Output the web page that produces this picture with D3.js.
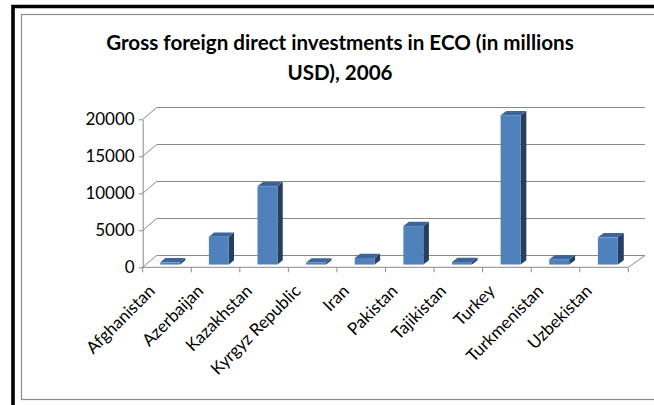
<!DOCTYPE html>
<html>
<head>
<meta charset="utf-8">
<script src="https://cdn.jsdelivr.net/npm/d3@7"></script>
<style>
  html, body { margin: 0; padding: 0; background: #fff; }
  svg { display: block; }
  text { font-family: Lato, "Open Sans", sans-serif; }
</style>
</head>
<body>
<svg id="chart" width="654" height="405"></svg>
<script>
// Gross FDI in ECO member states, 2006 (millions USD)
const categories = ["Afghanistan", "Azerbaijan", "Kazakhstan", "Kyrgyz Republic", "Iran",
                    "Pakistan", "Tajikistan", "Turkey", "Turkmenistan", "Uzbekistan"];
const fdiValues = [300, 3760, 10600, 280, 890, 5200, 340, 20185, 730, 3680];
const yTicks = [0, 5000, 10000, 15000, 20000];
const titleLines = ["Gross foreign direct investments in ECO (in millions", "USD), 2006"];

const svg = d3.select("#chart");

// frame: heavy outer border and thin inner chart-area border
svg.append("path")
  .attr("d", "M13,420 L13,6.5 L670,6.5")
  .attr("fill", "none").attr("stroke", "#000").attr("stroke-width", 3.6);
svg.append("rect")
  .attr("x", 21.5).attr("y", 14.5).attr("width", 700).attr("height", 385)
  .attr("fill", "#fff").attr("stroke", "#8c8c8c").attr("stroke-width", 1.2);

// title
svg.append("text")
  .attr("text-anchor", "middle")
  .attr("font-weight", "bold").attr("font-size", 20.6).attr("fill", "#000")
  .selectAll("tspan").data(titleLines).join("tspan")
  .attr("x", 340).attr("y", (d, i) => 50 + i * 30)
  .text(d => d);

// plot geometry (oblique 3-D box)
const x0 = 142.7, x1 = 628.3;
const y = d3.scaleLinear().domain([0, 20000]).range([267.3, 119.3]);
const xb = d3.scaleBand().domain(categories).range([x0, x1])
  .paddingInner(0.59).paddingOuter(0.295);
const step = xb.step();
const depthDy = -11.8;
const dxAt = x => 14 + 2.7 * (x - x0) / (x1 - x0);
const proj = (x, v, d) => [x + d * dxAt(x), y(v) + d * depthDy];

const gridColor = "#8a8a8a";
const grid = svg.append("g").attr("stroke", gridColor).attr("stroke-width", 1).attr("fill", "none");

// back-wall gridlines and left-wall diagonals
yTicks.forEach(v => {
  const a = proj(x0, v, 1), b = proj(x1, v, 1), f = proj(x0, v, 0);
  grid.append("path").attr("d", `M${f[0]},${f[1]}L${a[0]},${a[1]}L${b[0]},${b[1]}`);
});
// floor right edge and front edge
{
  const fr = proj(x1, 0, 0), br = proj(x1, 0, 1);
  grid.append("path").attr("d", `M${fr[0]},${fr[1]}L${br[0]},${br[1]}`);
  grid.append("path").attr("d", `M${x0},${y(0)}L${x1},${y(0)}`);
}

// bars
const d0 = 0.23, d1 = 0.59;
const colors = { front: "#4f81bd", side: "#273f5e", top: "#3b659b" };
const poly = pts => "M" + pts.map(p => p.join(",")).join("L") + "Z";
const bars = svg.append("g");
categories.forEach((c, i) => {
  const v = fdiValues[i];
  const xs = xb(c), xe = xs + xb.bandwidth();
  const g = bars.append("g");
  g.append("path").attr("fill", colors.side)
    .attr("d", poly([proj(xe, 0, d0), proj(xe, 0, d1), proj(xe, v, d1), proj(xe, v, d0)]));
  g.append("path").attr("fill", colors.top)
    .attr("d", poly([proj(xs, v, d0), proj(xe, v, d0), proj(xe, v, d1), proj(xs, v, d1)]));
  g.append("path").attr("fill", colors.front)
    .attr("d", poly([proj(xs, 0, d0), proj(xe, 0, d0), proj(xe, v, d0), proj(xs, v, d0)]));
});

// value axis
const yAxis = svg.append("g")
  .attr("transform", `translate(${x0},0)`)
  .call(d3.axisLeft(y).tickValues(yTicks).tickSize(4).tickSizeOuter(0).tickPadding(4)
    .tickFormat(d3.format("d")));
yAxis.selectAll("path, line").attr("stroke", gridColor);
yAxis.selectAll("text").attr("font-size", 17).attr("fill", "#000")
  .attr("font-family", "Lato, 'Open Sans', sans-serif");

// category ticks at band boundaries
const bounds = d3.range(categories.length + 1).map(i => x0 + i * step);
svg.append("g").attr("stroke", gridColor)
  .selectAll("line").data(bounds).join("line")
  .attr("x1", d => d).attr("x2", d => d)
  .attr("y1", y(0)).attr("y2", y(0) + 5);

// rotated category labels
svg.append("g")
  .selectAll("text").data(categories).join("text")
  .attr("transform", (d, i) => `translate(${x0 + (i + 0.5) * step - 11},292) rotate(-45)`)
  .attr("text-anchor", "end")
  .attr("font-size", 17).attr("fill", "#000")
  .text(d => d);
</script>
</body>
</html>
